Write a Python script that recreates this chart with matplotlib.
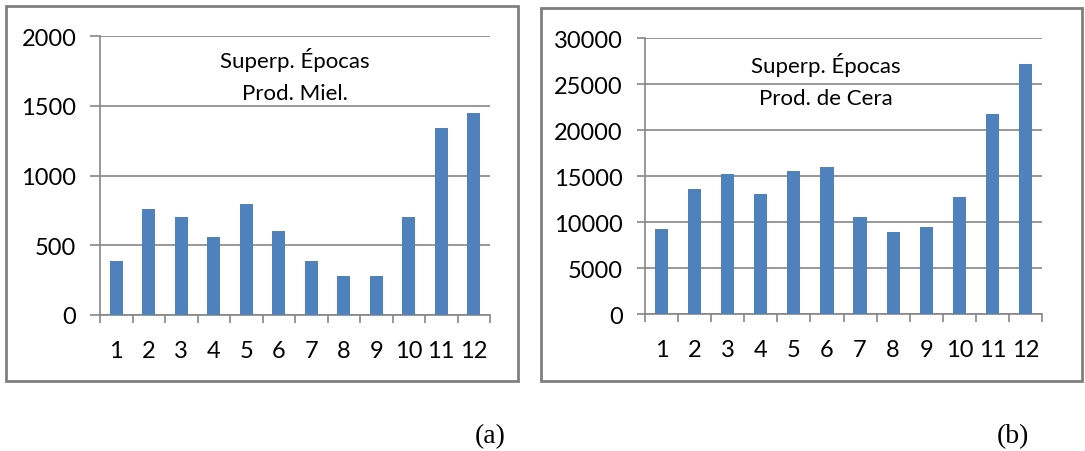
import matplotlib.pyplot as plt
import matplotlib.patches as patches
import numpy as np

# data
epocas = ['1', '2', '3', '4', '5', '6', '7', '8', '9', '10', '11', '12']
miel = [385, 760, 703, 559, 796, 602, 385, 280, 280, 703, 1340, 1448]
cera = [9250, 13590, 15220, 13050, 15540, 15980, 10550, 8930, 9470, 12720, 21720, 27150]

W, H = 1085, 452
BLUE = '#4F81BD'
GRAY = '#868686'
FONT = 'Lato'


def draw_panel(fig, rect, values, ymax, step, title, title_xy, ytick_len):
    ax = fig.add_axes(rect)
    x = np.arange(len(values))
    ax.bar(x, values, width=0.4, color=BLUE, zorder=3)
    ax.set_xlim(-0.5, len(values) - 0.5)
    ax.set_ylim(0, ymax)
    ax.set_yticks(np.arange(0, ymax + 1, step))
    ax.set_yticklabels([str(v) for v in range(0, ymax + 1, step)],
                       fontsize=17, family=FONT)
    ax.set_xticks(x)
    ax.set_xticklabels(epocas, fontsize=17, family=FONT)
    ax.set_xticks(np.arange(-0.5, len(values), 1.0), minor=True)
    ax.tick_params(axis='x', which='major', length=0, pad=18)
    ax.tick_params(axis='x', which='minor', length=6, width=1.2, color=GRAY)
    ax.tick_params(axis='y', length=ytick_len, width=1.2, color=GRAY, pad=10)
    ax.grid(axis='y', color=GRAY, linewidth=1.2, zorder=0)
    for s in ['top', 'right']:
        ax.spines[s].set_visible(False)
    for s in ['left', 'bottom']:
        ax.spines[s].set_color(GRAY)
        ax.spines[s].set_linewidth(1.2)
    ax.text(title_xy[0], title_xy[1], title, transform=ax.transAxes,
            ha='center', va='center', fontsize=16, family=FONT,
            linespacing=1.75, zorder=4)
    return ax


fig = plt.figure(figsize=(W / 100, H / 100), dpi=100)

# panel borders
for (x0, y0, x1, y1) in [(6, 7, 518, 382), (541, 9, 1082, 382)]:
    fig.patches.append(patches.Rectangle((x0 / W, 1 - y1 / H), (x1 - x0) / W,
                                         (y1 - y0) / H, transform=fig.transFigure,
                                         fill=False, edgecolor='#7f7f7f',
                                         linewidth=2))

draw_panel(fig, [100 / W, 1 - 316 / H, 390 / W, 279 / H], miel, 2000, 500,
           'Superp. Épocas\nProd. Miel.', (0.5, 0.86), 7)
draw_panel(fig, [645 / W, 1 - 315 / H, 397 / W, 276 / H], cera, 30000, 5000,
           'Superp. Épocas\nProd. de Cera', (0.456, 0.848), 6)

fig.text(490 / W, 1 - 437 / H, '(a)', ha='center', va='center',
         fontsize=20, family='Liberation Serif')
fig.text(1013 / W, 1 - 437 / H, '(b)', ha='center', va='center',
         fontsize=20, family='Liberation Serif')

fig.savefig('out.png', dpi=100)
